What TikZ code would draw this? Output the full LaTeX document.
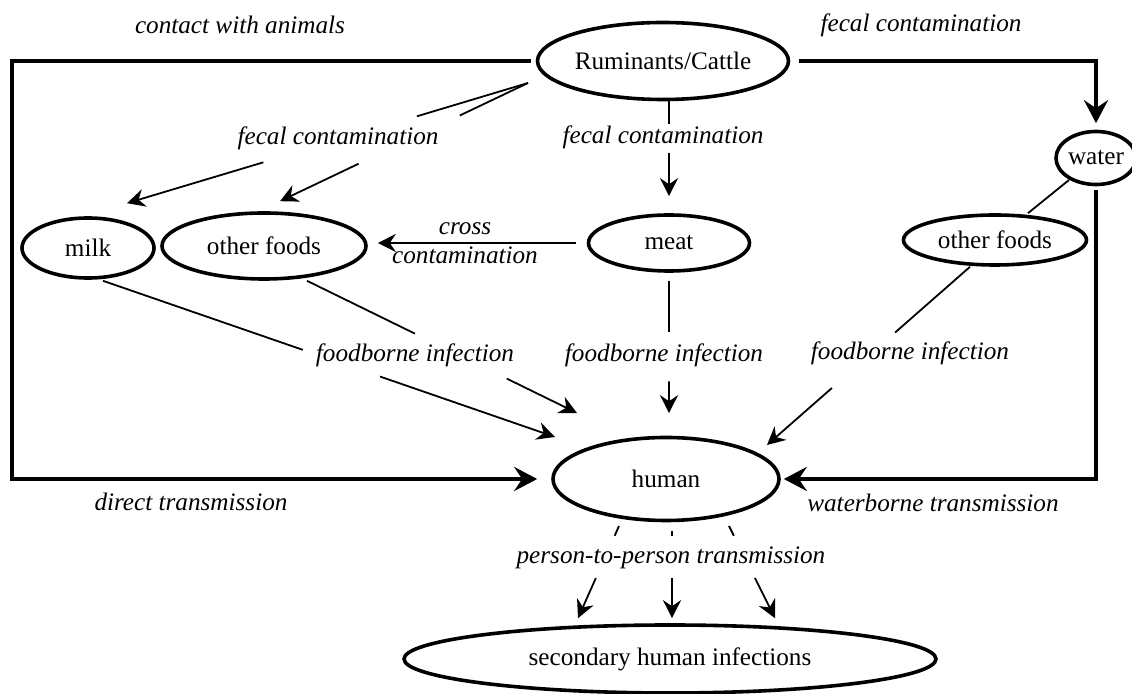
\documentclass[tikz,border=0pt]{standalone}
\usepackage{fontspec}
\setmainfont{Liberation Serif}
\usetikzlibrary{shapes.geometric,arrows.meta,calc}
\newcommand\fsz{\fontsize{12.6}{14.5}\selectfont}
\begin{document}
\begin{tikzpicture}[x=0.5pt,y=-0.5pt,
  ell/.style={ellipse,draw,line width=1.8pt,inner sep=0pt,font=\fsz},
  lbl/.style={font=\fsz\itshape,inner sep=0pt},
  thk/.style={line width=2pt},
  thn/.style={line width=0.9pt},
  arT/.style={-{Stealth[length=11.5pt,width=12pt,inset=4pt]}},
  arS/.style={-{Stealth[length=9pt,width=9pt,inset=3pt]}}]
\useasboundingbox (0,0) rectangle (1132,694);

% nodes
\node[ell,minimum width=125.5pt,minimum height=38.5pt] (rum) at (663,61) {Ruminants/Cattle};
\node[ell,minimum width=40pt,minimum height=26.5pt] (water) at (1096,158) {water};
\node[ell,minimum width=66pt,minimum height=30pt] (milk) at (88,248) {milk};
\node[ell,minimum width=102pt,minimum height=33pt] (ofl) at (264,246) {other foods};
\node[ell,minimum width=80.5pt,minimum height=28pt] (meat) at (669,243) {meat};
\node[ell,minimum width=91.5pt,minimum height=25pt] (ofr) at (995,240) {other foods};
\node[ell,minimum width=113pt,minimum height=41.5pt] (human) at (666,479) {human};
\node[ell,minimum width=266pt,minimum height=34pt] (sec) at (670,659) {secondary human infections};

% labels
\node[lbl] (lca) at (240,25) {contact with animals};
\node[lbl] (lfr) at (921,25) {fecal contamination};
\node[lbl] (lfl) at (338,138) {fecal contamination};
\node[lbl] (lfm) at (663,137) {fecal contamination};
\node[lbl,align=center] (lcc) at (465,243) {cross\\contamination};
\node[lbl] (lf1) at (415,355) {foodborne infection};
\node[lbl] (lf2) at (664,355) {foodborne infection};
\node[lbl] (lf3) at (910,353) {foodborne infection};
\node[lbl] (ldt) at (191,502) {direct transmission};
\node[lbl] (lwt) at (933,503) {waterborne transmission};
\node[lbl] (lpp) at (671,558) {person-to-person transmission};

% thick connectors
\coordinate (lc) at (12,479);
\draw[thk,arT,shorten <=2.5pt,shorten >=7pt] (rum.west) -| (lc) -- (human.west);
\draw[thk,arT,shorten <=4.25pt,shorten >=3.25pt] (rum.east) -| (water.north);
\draw[thk,arT,shorten <=1.75pt,shorten >=1.5pt] (water.south) |- (human.east);

% ruminants -> milk / other foods
\coordinate (rs) at ($(rum.center)+(-135,22)$);
\coordinate (mt) at ($(milk.north)+(39,-13)$);
\coordinate (ot) at ($(ofl.north)+(16,-10)$);
\draw[thn] (rs) -- ($(rs)!0.277!(mt)$);
\draw[thn,arS] ($(rs)!0.66!(mt)$) -- (mt);
\draw[thn] (rs) -- ($(rs)!0.275!(ot)$);
\draw[thn,arS] ($(rs)!0.683!(ot)$) -- (ot);

% ruminants -> meat
\coordinate (cS) at (rum.south -| meat.north);
\draw[thn] (cS) -- ($(cS)!0.203!(meat.north)$);
\draw[thn,arS,shorten >=8.5pt] ($(cS)!0.463!(meat.north)$) -- (meat.north);

% cross contamination
\draw[thn,arS,shorten <=5.25pt,shorten >=5pt] (meat.west) -- (meat.west -| ofl.east);

% milk -> human
\coordinate (ms) at ($(milk.south)+(15,1)$);
\coordinate (mh) at ($(human.center)+(-111,-42)$);
\draw[thn] (ms) -- ($(ms)!0.442!(mh)$);
\draw[thn,arS] ($(ms)!0.613!(mh)$) -- (mh);

% other foods (left) -> human
\coordinate (os) at ($(ofl.south)+(43,0)$);
\coordinate (oh) at ($(human.center)+(-89,-66)$);
\draw[thn] (os) -- ($(os)!0.40!(oh)$);
\draw[thn,arS] ($(os)!0.74!(oh)$) -- (oh);

% meat -> human
\coordinate (gE) at (meat.south |- human.north);
\draw[thn,shorten <=4pt] (meat.south) -- ($(meat.south)!0.366!(gE)$);
\draw[thn,arS,shorten >=11.25pt] ($(meat.south)!0.667!(gE)$) -- (gE);

% other foods (right) -> human
\coordinate (rs2) at ($(ofr.south)+(-25,0)$);
\coordinate (rh) at ($(human.center)+(101,-34)$);
\draw[thn] (rs2) -- ($(rs2)!0.369!(rh)$);
\draw[thn,arS] ($(rs2)!0.68!(rh)$) -- (rh);

% water - other foods (right)
\draw[thn] ($(water.center)+(-27,22)$) -- ($(ofr.north)+(33,0)$);

% person-to-person
\coordinate (p1s) at ($(human.center)+(-47,47)$);
\coordinate (p1e) at ($(sec.north)+(-92,-5)$);
\coordinate (p2s) at ($(human.center)+(6,52)$);
\coordinate (p2e) at ($(sec.north)+(2,-5)$);
\coordinate (p3s) at ($(human.center)+(63,47)$);
\coordinate (p3e) at ($(sec.north)+(105,-5)$);
\draw[thn] (p1s) -- ($(p1s)!0.106!(p1e)$);
\draw[thn,arS] ($(p1s)!0.564!(p1e)$) -- (p1e);
\draw[thn] (p2s) -- ($(p2s)!0.056!(p2e)$);
\draw[thn,arS] ($(p2s)!0.54!(p2e)$) -- (p2e);
\draw[thn] (p3s) -- ($(p3s)!0.106!(p3e)$);
\draw[thn,arS] ($(p3s)!0.564!(p3e)$) -- (p3e);
\end{tikzpicture}
\end{document}
